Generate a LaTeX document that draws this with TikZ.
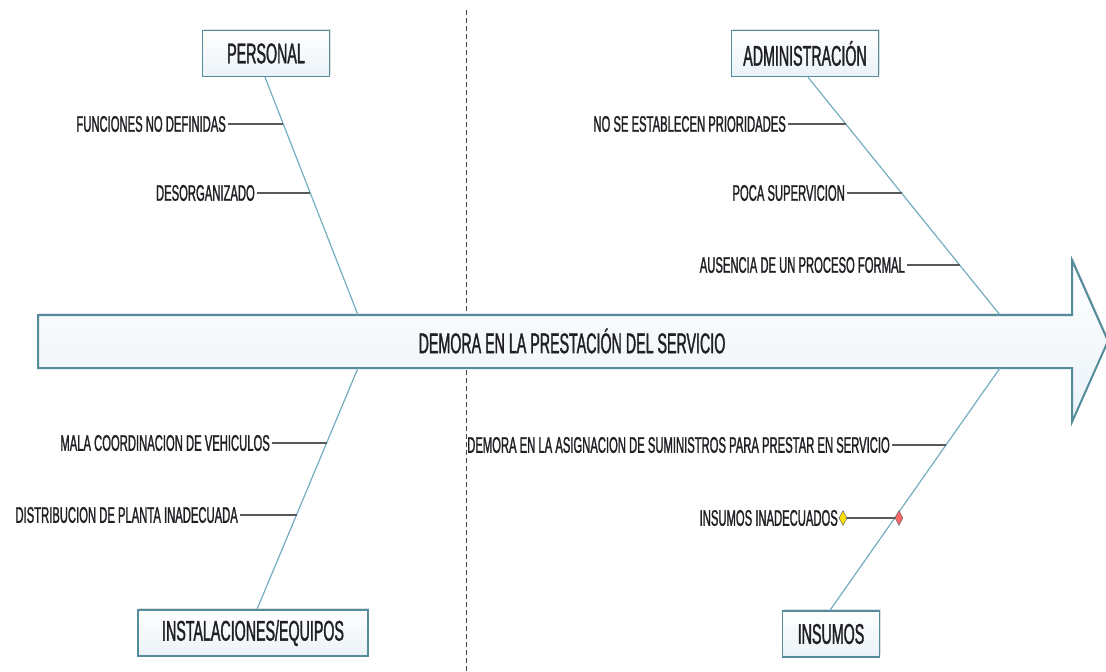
\documentclass[tikz,border=0pt]{standalone}
\usepackage{fontspec}
\setmainfont[FakeStretch=0.5, FakeBold=1.2]{Liberation Sans}
\usetikzlibrary{positioning}
\usetikzlibrary{shapes.geometric}
\usetikzlibrary{shadows}
\definecolor{mteal}{rgb}{0.33, 0.55, 0.61}
\definecolor{mbone}{rgb}{0.45, 0.68, 0.75}
\definecolor{mfill}{rgb}{0.92, 0.95, 0.97}
\definecolor{mtext}{rgb}{0.12, 0.12, 0.14}
\tikzset{catbox/.style = {draw=mteal, line width=1.5, top color=white, bottom color=mfill,
    minimum height=46, inner sep=0, text=mtext, font=\fontsize{28.5}{30}\selectfont,
    drop shadow={shadow xshift=1, shadow yshift=-2, fill=gray, opacity=0.25}}}
\tikzset{cause/.style = {anchor=east, inner sep=0, text=mtext, font=\fontsize{22.5}{24}\selectfont}}
\tikzset{bone/.style = {mbone, line width=1.2}}
\tikzset{twig/.style = {black!65, line width=1.2}}
\tikzset{gem/.style = {diamond, draw=black!60, line width=0.5, inner sep=0, minimum width=8, minimum height=15}}

\begin{document}
\begin{tikzpicture}[x=1pt, y=-1pt]
    \useasboundingbox (0, 0) rectangle (1106, 672);
    \draw [black!75, line width=1, dash pattern=on 5 off 3] (466, 10) -- (466, 672);

    % espina principal
    \draw [mteal, line width=2, top color=white, bottom color=mfill,
      drop shadow={shadow xshift=1, shadow yshift=-2, fill=gray, opacity=0.2}]
      (38, 315) -- (1072, 315) -- (1072, 260) -- (1108, 341)
      -- (1072, 422) -- (1072, 368) -- (38, 368) -- cycle;
    \node [inner sep=0, text=mtext, font=\fontsize{28.5}{30}\selectfont] (efecto) at (572, 341)
      {DEMORA EN LA PRESTACIÓN DEL SERVICIO};

    % categorias
    \node [catbox, minimum width=127] (personal) at (266, 53.5) {PERSONAL};
    \node [catbox, minimum width=147] (admin) at (805, 53.5) {ADMINISTRACIÓN};
    \node [catbox, minimum width=230] (instal) at (253, 633) {INSTALACIONES/EQUIPOS};
    \node [catbox, minimum width=97] (insumos) at (831, 634) {INSUMOS};

    \coordinate (pe) at (358, 315);
    \coordinate (ad) at (1000, 315);
    \coordinate (in) at (358, 368);
    \coordinate (su) at (1000, 368);
    \draw [bone] (personal.south -| 265, 0) -- (pe);
    \draw [bone] (admin.south -| 808, 0) -- (ad);
    \draw [bone] (instal.north -| 257, 0) -- (in);
    \draw [bone] (insumos.north -| 830, 0) -- (su);

    % causas
    \node [cause] (pe1) at (226, 124) {FUNCIONES NO DEFINIDAS};
    \node [cause] (pe2) at (255, 193) {DESORGANIZADO};
    \node [cause] (ad1) at (786, 124) {NO SE ESTABLECEN PRIORIDADES};
    \node [cause] (ad2) at (845, 193) {POCA SUPERVICION};
    \node [cause] (ad3) at (905, 265) {AUSENCIA DE UN PROCESO FORMAL};
    \node [cause] (in1) at (270, 443) {MALA COORDINACION DE VEHICULOS};
    \node [cause] (in2) at (238, 515) {DISTRIBUCION DE PLANTA INADECUADA};
    \node [cause] (su1) at (890, 445) {DEMORA EN LA ASIGNACION DE SUMINISTROS PARA PRESTAR EN SERVICIO};
    \node [cause] (su2) at (838, 518) {INSUMOS INADECUADOS};

    \coordinate (pe1b) at (283, 124);
    \coordinate (pe2b) at (310, 193);
    \coordinate (ad1b) at (846, 124);
    \coordinate (ad2b) at (902, 193);
    \coordinate (ad3b) at (960, 265);
    \coordinate (in1b) at (327, 443);
    \coordinate (in2b) at (297, 515);
    \coordinate (su1b) at (946, 445);
    \draw [twig] ([xshift=2]pe1.east) -- (pe1b);
    \draw [twig] ([xshift=2]pe2.east) -- (pe2b);
    \draw [twig] ([xshift=2]ad1.east) -- (ad1b);
    \draw [twig] ([xshift=2]ad2.east) -- (ad2b);
    \draw [twig] ([xshift=2]ad3.east) -- (ad3b);
    \draw [twig] ([xshift=2]in1.east) -- (in1b);
    \draw [twig] ([xshift=2]in2.east) -- (in2b);
    \draw [twig] ([xshift=2]su1.east) -- (su1b);

    \node [gem, fill=yellow!85!orange] (su2a) at (843, 518) {};
    \node [gem, fill=red!60] (su2b) at (899, 518) {};
    \draw [twig] (su2a) -- (su2b);
  \end{tikzpicture}
\end{document}
